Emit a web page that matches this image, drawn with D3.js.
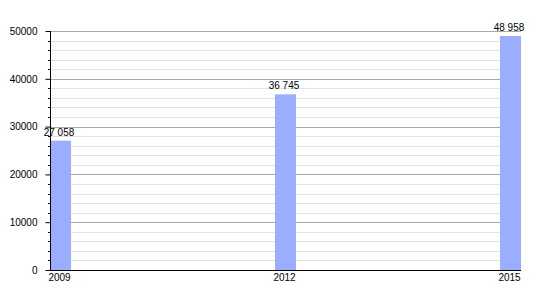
<!DOCTYPE html>
<head>
<meta charset="utf-8">
<title>Population 2009-2015</title>
<script src="https://d3js.org/d3.v7.min.js"></script>
<style>
body { margin: 0; background: #fff; }
text { font-family: "Liberation Sans", Arial, sans-serif; font-size: 10px; fill: #000; }
</style>
</head>
<body>
<div id="chart"></div>
<script>
//--------------------------- DATA ---------------------------//
const years = [2009, 2012, 2015];
const values = [27058, 36745, 48958];
const yTicks = [0, 10000, 20000, 30000, 40000, 50000];

//--------------------------- SVG ----------------------------//
const width = 550, height = 300;
const mLeft = 50, mRight = 521, mTop = 31, mBottom = 270;
const barW = 21;

const svg = d3.select("#chart").append("svg")
    .attr("width", width)
    .attr("height", height);

//-------------------------- SCALES --------------------------//
const x = d3.scalePoint().domain(years).range([mLeft, mRight - barW]);
const y = d3.scaleLinear().domain([0, 50000]).range([mBottom, mTop]);

const fmt = v => d3.format(",")(v).replace(",", " ");

//-------------------------- GRID ----------------------------//
const minor = d3.range(0, 50001, 2000).filter(v => v % 10000 !== 0);
svg.append("g").selectAll("line").data(minor).join("line")
    .attr("x1", mLeft).attr("x2", mRight)
    .attr("y1", d => Math.round(y(d)) + 0.5).attr("y2", d => Math.round(y(d)) + 0.5)
    .attr("stroke", "#e2e2e2");
svg.append("g").selectAll("line").data(yTicks.slice(1)).join("line")
    .attr("x1", mLeft).attr("x2", mRight)
    .attr("y1", d => Math.round(y(d)) + 0.5).attr("y2", d => Math.round(y(d)) + 0.5)
    .attr("stroke", "#a8a8a8");

//-------------------------- BARS ----------------------------//
svg.append("g").selectAll("rect").data(years).join("rect")
    .attr("x", d => x(d))
    .attr("y", (d, i) => y(values[i]))
    .attr("width", barW)
    .attr("height", (d, i) => mBottom - y(values[i]))
    .attr("fill", "#9aadff");

//-------------------------- AXES ----------------------------//
const ya = svg.append("g").attr("transform", "translate(" + (mLeft + 0.5) + ",0)");
ya.call(d3.axisLeft(y).tickValues(yTicks).tickFormat(d3.format("d")).tickSize(5).tickPadding(8));
ya.select(".domain").remove();
ya.append("line").attr("y1", mTop).attr("y2", mBottom).attr("stroke", "#000");
ya.selectAll(".minor").data(minor).join("line")
    .attr("x1", -2.5).attr("x2", 0)
    .attr("y1", d => Math.round(y(d)) + 0.5).attr("y2", d => Math.round(y(d)) + 0.5)
    .attr("stroke", "#000");
ya.selectAll(".tick text").attr("font-size", 10.5).attr("font-family", null);

svg.append("line")
    .attr("x1", mLeft).attr("x2", mRight)
    .attr("y1", mBottom + 0.5).attr("y2", mBottom + 0.5)
    .attr("stroke", "#000");

svg.append("g").selectAll("text").data(years).join("text")
    .attr("x", d => x(d) + barW / 2 - 1)
    .attr("y", mBottom + 11)
    .attr("text-anchor", "middle")
    .text(d => d);

//------------------------- LABELS ---------------------------//
svg.append("g").selectAll("text").data(years).join("text")
    .attr("x", d => x(d) + barW / 2 - 1.5)
    .attr("y", (d, i) => y(values[i]) - 5)
    .attr("text-anchor", "middle")
    .text((d, i) => fmt(values[i]));
</script>
</body>
